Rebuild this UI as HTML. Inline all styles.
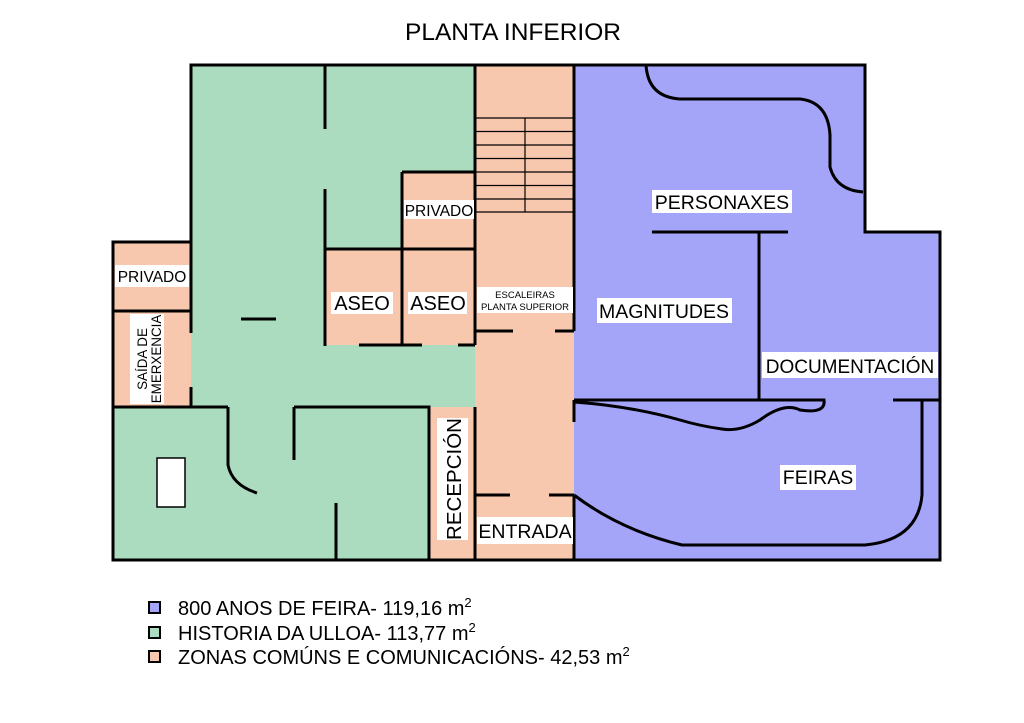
<!DOCTYPE html>
<html><head><meta charset="utf-8"><style>
html,body{margin:0;padding:0;background:#fff}
svg{display:block}
text{font-family:"Liberation Sans",sans-serif;fill:#000}
</style></head><body>
<svg width="1024" height="723" viewBox="0 0 1024 723" xmlns="http://www.w3.org/2000/svg">
<text x="513" y="40" font-size="24.5" text-anchor="middle">PLANTA INFERIOR</text>
<g stroke="none">
<rect x="191" y="65" width="284" height="495" fill="#acdcc0"/>
<rect x="113" y="407" width="80" height="153" fill="#acdcc0"/>
<rect x="113" y="242" width="78" height="165" fill="#f8c8ae"/>
<rect x="475" y="65" width="99" height="495" fill="#f8c8ae"/>
<rect x="429" y="407" width="46" height="153" fill="#f8c8ae"/>
<rect x="325" y="249" width="150" height="96" fill="#f8c8ae"/>
<rect x="402" y="172" width="73" height="77" fill="#f8c8ae"/>
<path d="M574 65 H865 V232 H940 V560 H574 Z" fill="#a4a4f8"/>
</g>
<g fill="none" stroke="#000" stroke-width="3">
<path d="M191 242 V65 H865 V232 H940 V560 H113 V242 H191"/>
<path d="M113 311 H191"/>
<path d="M191 242 V333 M191 387 V407"/>
<path d="M113 407 H228 M294 407 H429 V560"/>
<path d="M228 407 V465 Q232 485 257 493"/>
<path d="M294 407 V460"/>
<path d="M336 503 V560"/>
<path d="M241 319 H276"/>
<path d="M325 65 V129 M325 189 V346"/>
<path d="M325 249 H475 M402 172 H475 M402 172 V345"/>
<path d="M359 345 H422 M458 345 H475"/>
<path d="M475 65 V345 M475 407 V560"/>
<path d="M475 331 H513 M555 331 H574"/>
<path d="M475 495 H510 M549 495 H574"/>
<path d="M574 65 V331 M574 400 V422 M574 495 V560"/>
<path d="M646 65 Q648 97 680 99 H800 Q828 102 830 135 V167 Q836 190 863 192"/>
<path d="M652 232 H788 M759 232 V400"/>
<path d="M574 400 H824 Q826 414 800 410 Q784 402 760 420 Q740 432 722 429 Q700 426 680 420 Q630 406 574 402"/>
<path d="M893 400 H940 M922 400 V495 Q918 540 865 545 H682 Q620 530 574 495"/>
</g>
<g stroke="#000" stroke-width="1.2">
<path d="M475 118 H574 M475 131.5 H574 M475 145 H574 M475 158.5 H574 M475 172 H574 M475 185.5 H574 M475 199 H574 M475 212 H574 M525 118 V212"/>
</g>
<rect x="157" y="458" width="28" height="49" fill="#fff" stroke="#000" stroke-width="1.5"/>
<g fill="#fff">
<rect x="404" y="200" width="70" height="19"/>
<rect x="115" y="265" width="74" height="22"/>
<rect x="331" y="292" width="62" height="22"/>
<rect x="408" y="292" width="59" height="22"/>
<rect x="477" y="287" width="96" height="26"/>
<rect x="130" y="314" width="34" height="90"/>
<rect x="437" y="418" width="31" height="122"/>
<rect x="477" y="517" width="96" height="27"/>
<rect x="652" y="190" width="140" height="23"/>
<rect x="597" y="298" width="135" height="25"/>
<rect x="762" y="352" width="176" height="26"/>
<rect x="780" y="465" width="76" height="25"/>
</g>
<g font-size="15.5">
<text x="439" y="216" text-anchor="middle">PRIVADO</text>
<text x="152" y="282" text-anchor="middle">PRIVADO</text>
</g>
<text x="362" y="310" text-anchor="middle" font-size="20">ASEO</text>
<text x="438" y="310" text-anchor="middle" font-size="20">ASEO</text>
<text x="525" y="538" text-anchor="middle" font-size="19.5">ENTRADA</text>
<text x="722" y="209" text-anchor="middle" font-size="19.5">PERSONAXES</text>
<text x="664" y="318" text-anchor="middle" font-size="19.5">MAGNITUDES</text>
<text x="850" y="373" text-anchor="middle" font-size="19">DOCUMENTACIÓN</text>
<text x="818" y="484" text-anchor="middle" font-size="19.5">FEIRAS</text>
<text x="525" y="298" font-size="9.5" text-anchor="middle">ESCALEIRAS</text>
<text x="525" y="310" font-size="9.5" text-anchor="middle">PLANTA SUPERIOR</text>
<text transform="translate(147 359) rotate(-90)" font-size="13.4" text-anchor="middle">SAÍDA DE</text>
<text transform="translate(161 359) rotate(-90)" font-size="13.4" text-anchor="middle">EMERXENCIA</text>
<text transform="translate(461 479) rotate(-90)" font-size="20.5" text-anchor="middle">RECEPCIÓN</text>
<rect x="149" y="602" width="11" height="11" fill="#a4a4f8" stroke="#000" stroke-width="2"/>
<rect x="149" y="627" width="11" height="11" fill="#acdcc0" stroke="#000" stroke-width="2"/>
<rect x="149" y="651" width="11" height="11" fill="#f8c8ae" stroke="#000" stroke-width="2"/>
<g font-size="20">
<text x="178" y="615">800 ANOS DE FEIRA- 119,16 m<tspan font-size="13" dy="-8">2</tspan></text>
<text x="178" y="640">HISTORIA DA ULLOA- 113,77 m<tspan font-size="13" dy="-8">2</tspan></text>
<text x="178" y="664">ZONAS COMÚNS E COMUNICACIÓNS- 42,53 m<tspan font-size="13" dy="-8">2</tspan></text>
</g>
</svg>
</body></html>
